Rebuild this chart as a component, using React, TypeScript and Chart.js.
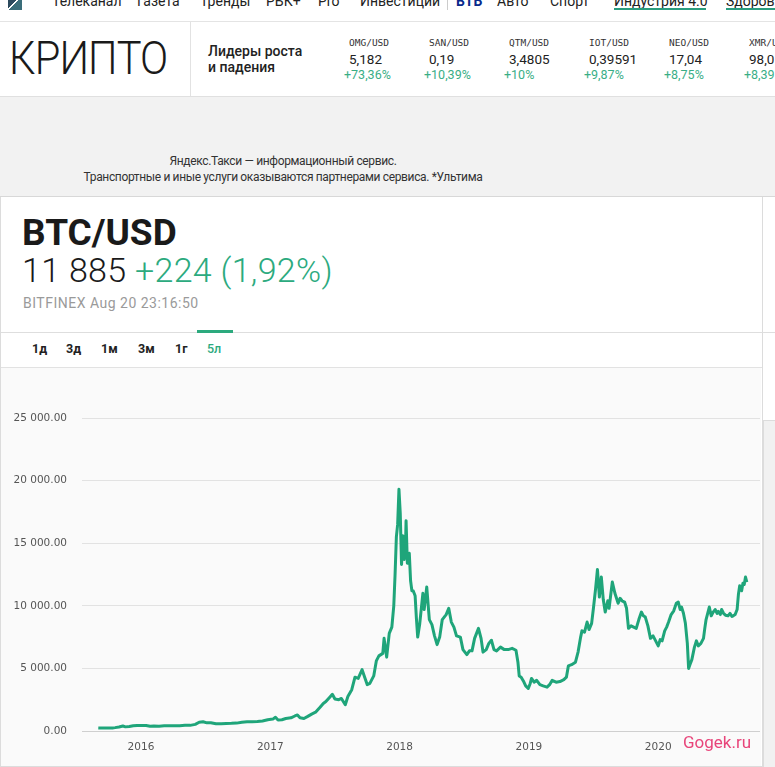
import React, { useEffect, useRef } from 'react';
import { Chart, registerables } from 'chart.js';

Chart.register(...registerables);

// ---------- DATA ----------
const dates = [
  2015.67, 2015.70, 2015.74, 2015.78, 2015.80, 2015.83, 2015.86, 2015.88, 2015.91, 2015.94, 2015.97,
  2016.00, 2016.04, 2016.07, 2016.10, 2016.14, 2016.18, 2016.22, 2016.26, 2016.30, 2016.34, 2016.38,
  2016.42, 2016.45, 2016.48, 2016.51, 2016.54, 2016.58, 2016.62, 2016.66, 2016.70, 2016.74, 2016.78,
  2016.82, 2016.86, 2016.90, 2016.94, 2016.98,
  2017.02, 2017.04, 2017.06, 2017.09, 2017.12, 2017.16, 2017.19, 2017.21, 2017.23, 2017.26, 2017.29,
  2017.32, 2017.35, 2017.385, 2017.41, 2017.43, 2017.46, 2017.48, 2017.50, 2017.53, 2017.55, 2017.58,
  2017.60, 2017.63, 2017.655, 2017.68, 2017.71, 2017.73, 2017.75, 2017.77, 2017.80, 2017.82, 2017.84,
  2017.87, 2017.88, 2017.90, 2017.92, 2017.94, 2017.955, 2017.965, 2017.975, 2017.985, 2017.995,
  2018.005, 2018.015, 2018.025, 2018.035, 2018.045, 2018.05, 2018.06, 2018.075, 2018.085, 2018.095,
  2018.105, 2018.12, 2018.13, 2018.14, 2018.155, 2018.17, 2018.18, 2018.19, 2018.21, 2018.23, 2018.25,
  2018.27, 2018.29, 2018.31, 2018.33, 2018.36, 2018.38, 2018.40, 2018.42, 2018.44, 2018.47, 2018.49,
  2018.52, 2018.54, 2018.56, 2018.58, 2018.61, 2018.63, 2018.645, 2018.67, 2018.69, 2018.71, 2018.73,
  2018.75, 2018.78, 2018.81, 2018.84, 2018.87, 2018.90, 2018.915, 2018.925, 2018.94, 2018.957, 2018.975,
  2018.995,
  2019.01, 2019.02, 2019.04, 2019.06, 2019.085, 2019.11, 2019.14, 2019.16, 2019.18, 2019.21, 2019.24,
  2019.27, 2019.29, 2019.305, 2019.33, 2019.36, 2019.38, 2019.40, 2019.41, 2019.43, 2019.45, 2019.465,
  2019.485, 2019.50, 2019.515, 2019.53, 2019.545, 2019.56, 2019.575, 2019.59, 2019.61, 2019.62, 2019.645,
  2019.665, 2019.69, 2019.705, 2019.72, 2019.74, 2019.755, 2019.77, 2019.79, 2019.81, 2019.83, 2019.85,
  2019.87, 2019.885, 2019.90, 2019.92, 2019.94, 2019.96, 2019.975,
  2020.00, 2020.015, 2020.03, 2020.05, 2020.065, 2020.08, 2020.10, 2020.12, 2020.14, 2020.155, 2020.17,
  2020.18, 2020.195, 2020.21, 2020.225, 2020.235, 2020.245, 2020.26, 2020.28, 2020.295, 2020.31, 2020.33,
  2020.35, 2020.36, 2020.37, 2020.385, 2020.395, 2020.41, 2020.425, 2020.44, 2020.455, 2020.465, 2020.48,
  2020.49, 2020.505, 2020.52, 2020.54, 2020.555, 2020.57, 2020.58, 2020.595, 2020.61, 2020.62, 2020.63,
  2020.645, 2020.655, 2020.665, 2020.675, 2020.685,
];

const prices = [
  240, 230, 240, 245, 270, 320, 400, 330, 360, 420, 440,
  430, 440, 380, 390, 380, 420, 410, 415, 420, 450, 450,
  530, 700, 740, 650, 660, 580, 575, 600, 610, 630, 700,
  740, 740, 760, 800, 900,
  950, 1100, 880, 900, 1000, 1050, 1200, 1280, 1050, 1000, 1170,
  1350, 1500, 1900, 2200, 2350, 2700, 2930, 2550, 2500, 2600, 2100,
  2750, 3300, 4300, 4200, 4900, 4300, 3700, 3800, 4400, 5600, 6000,
  6200, 7400, 5900, 7800, 8300, 10000, 12500, 15500, 16500, 19300,
  17400, 13300, 15600, 13700, 14500, 16800, 13400, 14200, 12000, 11200,
  11200, 10800, 9000, 7500, 8500, 10000, 11000, 9700, 11500, 8900, 8500,
  7600, 6900, 7500, 8900, 9300, 9800, 8700, 8300, 7600, 7500, 6500,
  6100, 6400, 6400, 7400, 8200, 7400, 6300, 6500, 7000, 7250, 6500,
  6400, 6700, 6500, 6500, 6600, 6450, 5500, 4400, 4300, 4000, 3600,
  3400,
  3800, 4200, 3900, 4050, 3700, 3600, 3500, 3700, 4050, 3900, 3950,
  4100, 4300, 5200, 5300, 5500, 6300, 7500, 8000, 7900, 8700, 8100,
  8600, 9900, 11300, 12900, 10700, 12300, 10500, 9500, 10400, 9800, 11900,
  11000, 10200, 10600, 10400, 10300, 9800, 8200, 8400, 8300, 8200, 8900,
  9500, 9200, 9100, 8400, 7400, 7600, 7300,
  6800, 7300, 7200, 8000, 8300, 8700, 9300, 9600, 10200, 10300, 9700,
  9900, 9400, 8600, 7000, 5000, 5300, 5700, 6700, 7200, 6800, 7000,
  7400, 8200, 8900, 9500, 9900, 9200, 9500, 9700, 9400, 9550, 9300,
  9700, 9400, 9250, 9200, 9400, 9150, 9200, 9300, 9700, 10900, 11600,
  11200, 11800, 11700, 12300, 11900,
];

const yTickValues = [0, 5000, 10000, 15000, 20000, 25000];
const yearTickValues = [2016, 2017, 2018, 2019, 2020];

const navLabels = ['Телеканал', 'Газета', 'Тренды', 'РБК+', 'Pro', 'Инвестиции', 'ВТБ', 'Авто', 'Спорт', 'Индустрия 4.0', 'Здоровье'];
const tickerPairs = ['OMG/USD', 'SAN/USD', 'QTM/USD', 'IOT/USD', 'NEO/USD', 'XMR/USD'];
const tickerPrices = ['5,182', '0,19', '3,4805', '0,39591', '17,04', '98,05'];
const tickerChanges = ['+73,36%', '+10,39%', '+10%', '+9,87%', '+8,75%', '+8,39%'];
const periodLabels = ['1д', '3д', '1м', '3м', '1г', '5л'];

// ---------- LAYOUT ----------
const navLeft = [52, 137, 200, 266, 318, 360, 456, 497, 550, 614, 726];
const periodLeft = [32, 66, 101, 138, 175, 207];
const GREEN = '#1fa57a';
const TEXT_GREEN = '#2caa7e';

function fmtThousands(v: number): string {
  const s = String(Math.round(v)).replace(/\B(?=(\d{3})+(?!\d))/g, ' ');
  return s + '.00';
}

const abs = (s: React.CSSProperties): React.CSSProperties => ({ position: 'absolute', whiteSpace: 'nowrap', ...s });

function PriceChart() {
  const ref = useRef<HTMLCanvasElement | null>(null);
  useEffect(() => {
    if (!ref.current) return;
    const points = dates.map((d, i) => ({ x: d, y: prices[i] }));
    const chart = new Chart(ref.current, {
      type: 'line',
      data: {
        datasets: [
          {
            data: points,
            borderColor: GREEN,
            borderWidth: 3,
            pointRadius: 0,
            tension: 0,
            fill: false,
            borderJoinStyle: 'round',
          },
        ],
      },
      options: {
        animation: false,
        responsive: false,
        layout: { padding: { top: 50, right: 1, left: 0, bottom: 0 } },
        plugins: { legend: { display: false }, tooltip: { enabled: false } },
        scales: {
          x: {
            type: 'linear',
            min: 2015.544,
            max: 2020.787,
            afterBuildTicks: (s: any) => {
              s.ticks = yearTickValues.map((v) => ({ value: v }));
            },
            afterFit: (s: any) => {
              s.height = 35;
            },
            ticks: {
              callback: (v: any) => String(v),
              color: '#555',
              font: { family: 'DejaVu Sans', size: 10.5 },
              padding: 10,
              maxRotation: 0,
              autoSkip: false,
            },
            grid: { display: false, drawTicks: false },
            border: { display: false },
          },
          y: {
            min: 0,
            max: 25000,
            afterBuildTicks: (s: any) => {
              s.ticks = yTickValues.map((v) => ({ value: v }));
            },
            afterFit: (s: any) => {
              s.width = 81;
            },
            ticks: {
              callback: (v: any) => fmtThousands(Number(v)),
              color: '#555',
              font: { family: 'DejaVu Sans', size: 10.5 },
              padding: 15,
            },
            grid: {
              drawTicks: false,
              color: (ctx: any) => (ctx.tick && ctx.tick.value === 0 ? '#cfcfcf' : '#e2e2e2'),
              lineWidth: 1,
            },
            border: { display: false },
          },
        },
      },
    });
    return () => chart.destroy();
  }, []);
  return <canvas ref={ref} width={760} height={398} style={{ display: 'block' }} />;
}

export default function App() {
  return (
    <div
      style={{
        position: 'fixed',
        left: 0,
        top: 0,
        width: 775,
        height: 767,
        overflow: 'hidden',
        background: '#fff',
        fontFamily: 'Roboto, "Noto Sans", sans-serif',
        color: '#1a1a1a',
      }}
    >
      {/* nav row */}
      <div style={abs({ left: 8, top: -5, width: 14, height: 15, background: 'linear-gradient(135deg, #2c4a5e 0%, #2c4a5e 45%, #ffffff 45%, #ffffff 55%, #3a6d7a 55%)' })} />
      {navLabels.map((t, i) => (
        <div
          key={t}
          style={abs({
            left: navLeft[i],
            top: -6,
            fontSize: 14,
            lineHeight: '14px',
            color: t === 'ВТБ' ? '#0a2a8c' : '#222',
            fontWeight: t === 'ВТБ' ? 700 : 400,
          })}
        >
          {t}
        </div>
      ))}
      <div style={abs({ left: 447, top: 0, width: 1, height: 10, background: '#ccc' })} />
      <div style={abs({ left: 614, top: 8, width: 92, height: 2, background: '#2a9d7f' })} />
      <div style={abs({ left: 726, top: 8, width: 60, height: 2, background: '#2a9d7f' })} />
      <div style={abs({ left: 0, top: 21, width: 775, height: 1, background: '#e4e4e4' })} />

      {/* crypto header */}
      <div
        style={abs({
          left: 9,
          top: 30,
          fontSize: 47,
          lineHeight: '56px',
          fontWeight: 300,
          color: '#1a1a1a',
          letterSpacing: -1,
          transform: 'scaleX(0.885)',
          transformOrigin: 'left center',
        })}
      >
        КРИПТО
      </div>
      <div style={abs({ left: 190, top: 22, width: 1, height: 74, background: '#e2e2e2' })} />
      <div style={abs({ left: 208, top: 43, fontSize: 14, lineHeight: '16px', fontWeight: 500, color: '#222' })}>
        Лидеры роста
        <br />
        и падения
      </div>
      {tickerPairs.map((p, i) => (
        <React.Fragment key={p}>
          <div style={abs({ left: 349 + i * 80, top: 37, fontSize: 9.5, lineHeight: '12px', fontFamily: '"DejaVu Sans Mono", monospace', color: '#333' })}>{p}</div>
          <div style={abs({ left: 349 + i * 80, top: 51, fontSize: 13.5, lineHeight: '16px', color: '#222' })}>{tickerPrices[i]}</div>
          <div style={abs({ left: 344 + i * 80, top: 67, fontSize: 12.5, lineHeight: '16px', color: '#3aae86' })}>{tickerChanges[i]}</div>
        </React.Fragment>
      ))}
      <div style={abs({ left: 0, top: 96, width: 775, height: 1, background: '#e0e0e0' })} />

      {/* ad block */}
      <div style={abs({ left: 0, top: 97, width: 775, height: 99, background: '#f2f2f2' })} />
      <div style={abs({ left: 0, top: 153, width: 566, textAlign: 'center', fontSize: 12, lineHeight: '16px', color: '#333', letterSpacing: -0.35 })}>
        Яндекс.Такси — информационный сервис.
        <br />
        Транспортные и иные услуги оказываются партнерами сервиса. *Ультима
      </div>
      <div style={abs({ left: 0, top: 196, width: 775, height: 1, background: '#d8d8d8' })} />

      {/* main panel */}
      <div style={abs({ left: 0, top: 197, width: 761, height: 569, borderLeft: '1px solid #dcdcdc', borderRight: '1px solid #dcdcdc', borderBottom: '1px solid #dcdcdc' })} />
      <div style={abs({ left: 22, top: 212, fontSize: 37, lineHeight: '42px', fontWeight: 700, color: '#1a1a1a' })}>BTC/USD</div>
      <div style={abs({ left: 22, top: 250, fontSize: 34, lineHeight: '40px', fontWeight: 300, color: '#1a1a1a', letterSpacing: 0.3 })}>
        11 885 <span style={{ color: TEXT_GREEN }}>+224 (1,92%)</span>
      </div>
      <div style={abs({ left: 23, top: 295, fontSize: 14, lineHeight: '16px', color: '#9a9a9a', letterSpacing: 0.5 })}>BITFINEX Aug 20 23:16:50</div>
      <div style={abs({ left: 1, top: 332, width: 774, height: 1, background: '#dedede' })} />
      <div style={abs({ left: 197, top: 330, width: 36, height: 3, background: TEXT_GREEN })} />
      {periodLabels.map((t, i) => (
        <div
          key={t}
          style={abs({
            left: periodLeft[i],
            top: 341,
            fontSize: 12.5,
            lineHeight: '16px',
            fontWeight: i === periodLabels.length - 1 ? 500 : 700,
            color: i === periodLabels.length - 1 ? TEXT_GREEN : '#222',
          })}
        >
          {t}
        </div>
      ))}
      <div style={abs({ left: 1, top: 367, width: 761, height: 1, background: '#e2e2e2' })} />

      {/* chart panel */}
      <div style={abs({ left: 1, top: 368, width: 760, height: 398, background: '#fafafa' })}>
        <PriceChart />
      </div>
      <div style={abs({ left: 683, top: 731, fontSize: 17, lineHeight: '22px', color: '#e8457a' })}>Gogek.ru</div>

      {/* right strip */}
      <div style={abs({ left: 763, top: 420, width: 12, height: 347, background: '#f1f1f1', borderTop: '1px solid #dcdcdc', borderLeft: '1px solid #dcdcdc' })} />
    </div>
  );
}
